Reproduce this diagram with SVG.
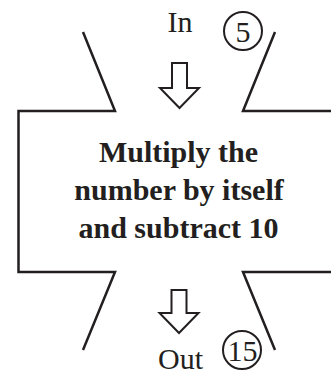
<svg xmlns="http://www.w3.org/2000/svg" width="331" height="375" viewBox="0 0 331 375">
<style>
.ln{fill:none;stroke:#231f20;stroke-width:2.5;stroke-linejoin:miter;stroke-linecap:butt}
.ar{fill:#fff;stroke:#231f20;stroke-width:2}
.ci{fill:none;stroke:#231f20;stroke-width:2}
.t{font-family:"Liberation Serif","Times New Roman",serif;fill:#231f20;text-anchor:middle}
.b{font-weight:bold;font-size:30px}
.r{font-size:30px}
.n{font-size:30px}
</style>
<rect width="331" height="375" fill="#fff"/>
<g id="machine">
<path class="ln" d="M83,32 L115,111 L18.5,111 L18.5,272 L115,272 L83,350"/>
<path class="ln" d="M275,32 L243,111 L331,111"/>
<path class="ln" d="M331,272 L243,272 L275,350"/>
<text class="t b" x="178.5" y="162">Multiply the</text>
<text class="t b" x="179" y="200">number by itself</text>
<text class="t b" x="178.5" y="238">and subtract 10</text>
</g>
<g id="input">
<text class="t r" x="180" y="32">In</text>
<circle class="ci" cx="243" cy="31" r="19"/>
<text class="t n" x="243" y="41.5">5</text>
</g>
<g id="output">
<text class="t r" x="180.5" y="369">Out</text>
<circle class="ci" cx="242" cy="350" r="19"/>
<text class="t n" x="242.5" y="360.5">15</text>
</g>
<g id="connectors">
<path class="ar" d="M172,63 L187,63 L187,88 L199,88 L179.5,108 L160,88 L172,88 Z"/>
<path class="ar" d="M171.5,290 L186.5,290 L186.5,313 L198.5,313 L179,333 L159.5,313 L171.5,313 Z"/>
</g>
</svg>
